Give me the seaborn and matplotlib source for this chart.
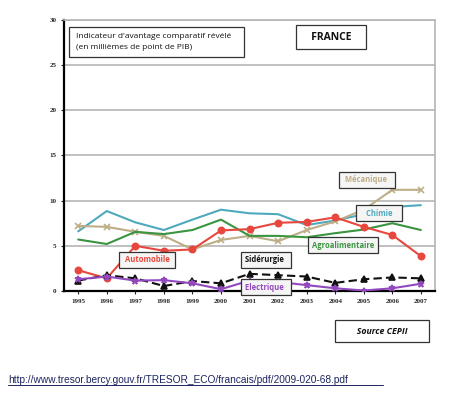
import matplotlib
matplotlib.use("Agg")
import matplotlib.pyplot as plt
import seaborn as sns
import pandas as pd

# données (millièmes de point de PIB)
annees = list(range(1995, 2008))
chimie = [6.6, 8.85, 7.6, 6.75, 7.9, 9.0, 8.6, 8.5, 7.3, 7.8, 8.5, 9.3, 9.5]
mecanique = [7.2, 7.1, 6.55, 6.1, 4.6, 5.65, 6.1, 5.5, 6.75, 7.7, 9.0, 11.2, 11.2]
agroalimentaire = [5.7, 5.2, 6.55, 6.3, 6.75, 7.9, 6.1, 6.1, 5.95, 6.4, 6.8, 7.5, 6.75]
automobile = [2.3, 1.4, 5.0, 4.45, 4.6, 6.7, 6.85, 7.55, 7.65, 8.15, 7.1, 6.2, 3.85]
siderurgie = [1.15, 1.75, 1.4, 0.55, 1.1, 0.85, 1.9, 1.75, 1.6, 0.9, 1.3, 1.5, 1.4]
electrique = [1.3, 1.6, 1.15, 1.2, 0.85, 0.2, 1.15, 1.0, 0.65, 0.3, 0.05, 0.3, 0.8]

series = {
    "Chimie": chimie,
    "Mécanique": mecanique,
    "Agroalimentaire": agroalimentaire,
    "Automobile": automobile,
    "Sidérurgie": siderurgie,
    "Electrique": electrique,
}

couleurs = {
    "Chimie": "#4FA9BD",
    "Mécanique": "#BDAE88",
    "Agroalimentaire": "#3A9440",
    "Automobile": "#E8473D",
    "Sidérurgie": "#111111",
    "Electrique": "#9248BE",
}
marqueurs = {"Chimie": "", "Mécanique": "x", "Agroalimentaire": "",
             "Automobile": "o", "Sidérurgie": "^", "Electrique": "*"}
styles = {"Sidérurgie": (0, (4, 2))}

rows = []
for nom, vals in series.items():
    for a, v in zip(annees, vals):
        rows.append({"annee": a, "valeur": v, "secteur": nom})
df = pd.DataFrame(rows)

sns.set_style("white")
plt.rcParams["font.family"] = ["Open Sans", "DejaVu Sans"]

fig = plt.figure(figsize=(4.6, 3.99), dpi=100)
ax = fig.add_axes([0.139, 0.2707, 0.807, 0.6792])

for nom in series:
    d = df[df["secteur"] == nom]
    sns.lineplot(data=d, x="annee", y="valeur", ax=ax, color=couleurs[nom],
                 marker=marqueurs[nom] or None, markersize=4.5,
                 markeredgewidth=1.2, markeredgecolor=couleurs[nom],
                 markerfacecolor=couleurs[nom],
                 linewidth=1.5, linestyle=styles.get(nom, "-"), legend=False,
                 zorder=3)

ax.set_xlim(1994.5, 2007.5)
ax.set_ylim(0, 30)
ax.set_yticks(range(0, 31, 5))
ax.set_xticks(annees)
ax.set_xticklabels([str(a) for a in annees], family="Liberation Serif",
                   fontsize=5, fontweight="bold")
ax.set_yticklabels([str(v) for v in range(0, 31, 5)], family="Liberation Serif",
                   fontsize=5, fontweight="bold")
ax.set_xlabel("")
ax.set_ylabel("")
ax.grid(axis="y", color="#b5b5b5", linewidth=1.2, zorder=0)
ax.tick_params(axis="both", length=2.5, width=0.8, pad=3, direction="out",
               bottom=True, left=True)
for s in ["top", "right"]:
    ax.spines[s].set_color("#b5b5b5")
    ax.spines[s].set_linewidth(1.2)
for s in ["left", "bottom"]:
    ax.spines[s].set_color("black")
    ax.spines[s].set_linewidth(1.6)

box = dict(boxstyle="square,pad=0.5", fc="#f5f5f5", ec="#333333", lw=0.9)

def etiquette(x, y, texte, couleur, **kw):
    fig.text(x / 460, 1 - y / 399, texte, color=couleur, ha="center",
             va="center", fontsize=kw.pop("fontsize", 5.5),
             fontweight=kw.pop("fontweight", "bold"),
             bbox=kw.pop("bbox", box), zorder=5, **kw)

fig.text(76 / 460, 1 - 42 / 399,
         "Indicateur d'avantage comparatif révélé   \n(en millièmes de point de PIB)",
         ha="left", va="center", fontsize=6, linespacing=1.7, color="#111111",
         bbox=dict(boxstyle="square,pad=0.8", fc="white", ec="#333333", lw=0.9))
etiquette(331, 37, "   FRANCE   ", "#111111", fontsize=7.5,
          bbox=dict(boxstyle="square,pad=0.6", fc="white", ec="#333333", lw=0.9))
etiquette(367, 180, " Mécanique  ", couleurs["Mécanique"])
etiquette(379, 213, "   Chimie   ", couleurs["Chimie"])
etiquette(343, 245, "Agroalimentaire", couleurs["Agroalimentaire"])
etiquette(147, 260, " Automobile ", couleurs["Automobile"])
etiquette(266, 260, "Sidérurgie  ", "#111111")
etiquette(266, 287, "Electrique  ", couleurs["Electrique"])
etiquette(382, 331, "       Source CEPII       ", "#111111", fontsize=6.3,
          fontstyle="italic",
          bbox=dict(boxstyle="square,pad=0.7", fc="white", ec="#333333", lw=0.9))

url = fig.text(8 / 460, 1 - 380 / 399,
               "http://www.tresor.bercy.gouv.fr/TRESOR_ECO/francais/pdf/2009-020-68.pdf",
               ha="left", va="center", fontsize=7.3, color="#1c2560",
               family="Liberation Sans")
fig.add_artist(plt.Line2D([8 / 460, 383 / 460], [1 - 385 / 399, 1 - 385 / 399],
                          color="#1c2560", linewidth=0.7))

fig.savefig("out.png", dpi=100)
